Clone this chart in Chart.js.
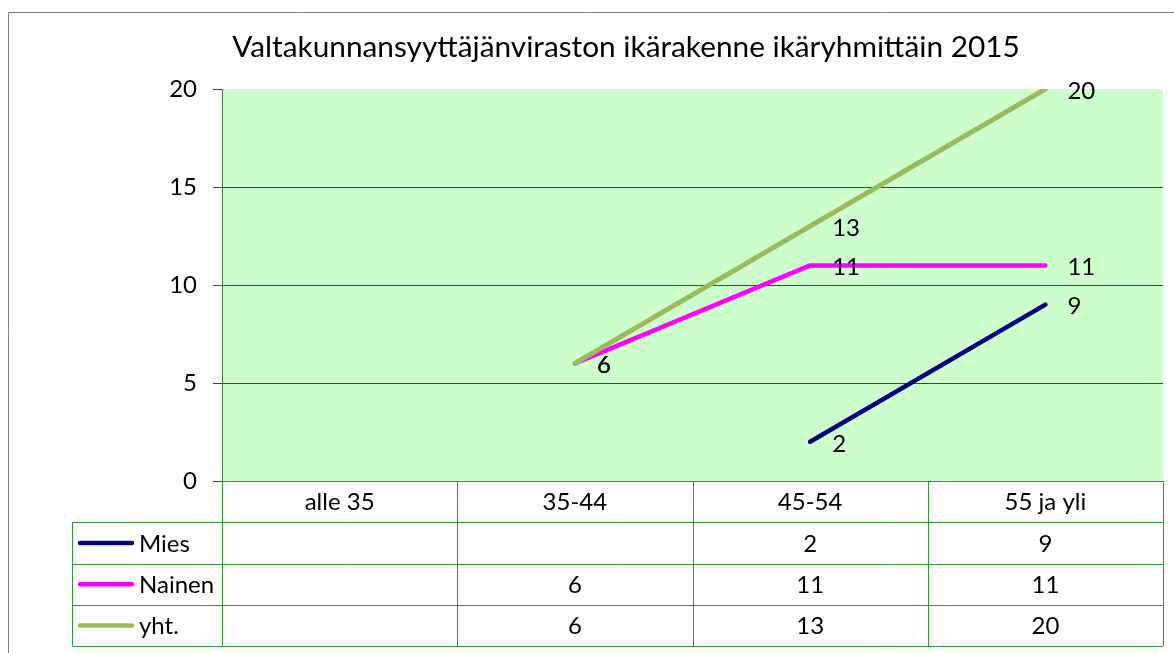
<!DOCTYPE html>
<html>
<head>
<meta charset="utf-8">
<script src="https://cdn.jsdelivr.net/npm/chart.js@4/dist/chart.umd.min.js"></script>
<style>
html,body{margin:0;padding:0;background:#fff;}
#wrap{position:relative;width:1174px;height:653px;}
canvas{display:block;}
</style>
</head>
<body>
<div id="wrap"><canvas id="c" width="1174" height="653"></canvas></div>
<script>
const titleText = "Valtakunnansyyttäjänviraston ikärakenne ikäryhmittäin 2015";
const categories = ["alle 35", "35-44", "45-54", "55 ja yli"];
const seriesNames = ["Mies", "Nainen", "yht."];
const mies = [null, null, 2, 9];
const nainen = [null, 6, 11, 11];
const yht = [null, 6, 13, 20];
const yTicks = [0, 5, 10, 15, 20];

const FONT = "Lato, 'Open Sans', sans-serif";
const colors = ["#000080", "#ff00ff", "#9bbb59"];
const tableGreen = "#2f9a2f";

const bgPlugin = {
  id: "bg",
  beforeDraw(chart) {
    const {ctx, chartArea: a} = chart;
    ctx.save();
    ctx.fillStyle = "#ffffff";
    ctx.fillRect(0, 0, chart.width, chart.height);
    ctx.fillStyle = "#ccffcc";
    ctx.fillRect(a.left, a.top, a.right - a.left, a.bottom - a.top);
    // outer frame
    ctx.strokeStyle = "#808080";
    ctx.lineWidth = 1;
    ctx.beginPath();
    ctx.moveTo(8.5, chart.height + 2);
    ctx.lineTo(8.5, 12.5);
    ctx.lineTo(chart.width + 2, 12.5);
    ctx.stroke();
    // title
    ctx.fillStyle = "#000";
    ctx.font = "29.8px " + FONT;
    ctx.textAlign = "center";
    ctx.textBaseline = "middle";
    ctx.fillText(titleText, 626, 47);
    ctx.restore();
  }
};

const labelPlugin = {
  id: "labels",
  afterDatasetsDraw(chart) {
    const {ctx} = chart;
    ctx.save();
    ctx.fillStyle = "#000";
    ctx.font = "24px " + FONT;
    ctx.textAlign = "left";
    ctx.textBaseline = "middle";
    chart.data.datasets.forEach((ds, di) => {
      const meta = chart.getDatasetMeta(di);
      meta.data.forEach((pt, i) => {
        const v = ds.data[i];
        if (v === null || v === undefined) return;
        ctx.fillText(String(v), pt.x + 22, pt.y + 2);
      });
    });
    ctx.restore();
  }
};

const tablePlugin = {
  id: "table",
  afterDraw(chart) {
    const {ctx, chartArea: a} = chart;
    const xs = chart.scales.x;
    const n = categories.length;
    const colW = (a.right - a.left) / n;
    const rowH = 41.3;
    const legendLeft = 72.5;
    const top = a.bottom;
    ctx.save();
    ctx.strokeStyle = tableGreen;
    ctx.lineWidth = 1;
    ctx.beginPath();
    ctx.moveTo(a.left, Math.round(top) + 0.5);
    ctx.lineTo(a.right, Math.round(top) + 0.5);
    for (let r = 1; r <= seriesNames.length + 1; r++) {
      const y = Math.round(top + r * rowH) + 0.5;
      ctx.moveTo(legendLeft, y);
      ctx.lineTo(a.right, y);
    }
    for (let c = 0; c <= n; c++) {
      const x = Math.round(a.left + c * colW) + 0.5;
      ctx.moveTo(x, top);
      ctx.lineTo(x, top + (seriesNames.length + 1) * rowH);
    }
    ctx.moveTo(legendLeft, top + rowH);
    ctx.lineTo(legendLeft, top + (seriesNames.length + 1) * rowH);
    ctx.stroke();

    ctx.fillStyle = "#000";
    ctx.font = "24px " + FONT;
    ctx.textBaseline = "middle";
    ctx.textAlign = "center";
    categories.forEach((c, i) => {
      ctx.fillText(c, xs.getPixelForValue(i), top + rowH / 2 + 1);
    });
    chart.data.datasets.forEach((ds, di) => {
      const yc = top + (di + 1) * rowH + rowH / 2 + 1;
      ctx.textAlign = "center";
      ds.data.forEach((v, i) => {
        if (v === null || v === undefined) return;
        ctx.fillText(String(v), xs.getPixelForValue(i), yc);
      });
      ctx.strokeStyle = colors[di];
      ctx.lineWidth = 4.5;
      ctx.lineCap = "round";
      ctx.beginPath();
      ctx.moveTo(80, yc - 1);
      ctx.lineTo(132, yc - 1);
      ctx.stroke();
      ctx.textAlign = "left";
      ctx.fillText(ds.label, 139, yc);
    });
    ctx.restore();
  }
};

new Chart(document.getElementById("c"), {
  type: "line",
  data: {
    labels: categories,
    datasets: [
      {label: seriesNames[0], data: mies, borderColor: colors[0], borderWidth: 4.5, order: 2},
      {label: seriesNames[1], data: nainen, borderColor: colors[1], borderWidth: 4.5, order: 1},
      {label: seriesNames[2], data: yht, borderColor: colors[2], borderWidth: 5, order: 0}
    ]
  },
  options: {
    responsive: false,
    animation: false,
    devicePixelRatio: 1,
    layout: {padding: {left: 0, right: 11, top: 89, bottom: 0}},
    elements: {
      point: {radius: 0, hoverRadius: 0},
      line: {tension: 0, borderCapStyle: "round", borderJoinStyle: "round", fill: false}
    },
    plugins: {legend: {display: false}, title: {display: false}, tooltip: {enabled: false}},
    events: [],
    scales: {
      x: {
        type: "category",
        offset: true,
        grid: {display: false},
        border: {display: false},
        ticks: {display: false},
        afterFit(s) { s.height = 172; }
      },
      y: {
        min: 0, max: 20,
        afterBuildTicks(s) { s.ticks = yTicks.map(v => ({value: v})); },
        ticks: {
          stepSize: 5,
          padding: 16,
          color: "#000",
          font: {family: FONT, size: 24}
        },
        grid: {
          color: (c) => (c.tick && c.tick.value === 20) ? "rgba(0,0,0,0)" : "#444444",
          tickColor: "#444444",
          tickLength: 9,
          lineWidth: 1
        },
        border: {display: true, color: "#3f6f3f", width: 1},
        afterFit(s) { s.width = 222; }
      }
    }
  },
  plugins: [bgPlugin, labelPlugin, tablePlugin]
});
</script>
</body>
</html>
